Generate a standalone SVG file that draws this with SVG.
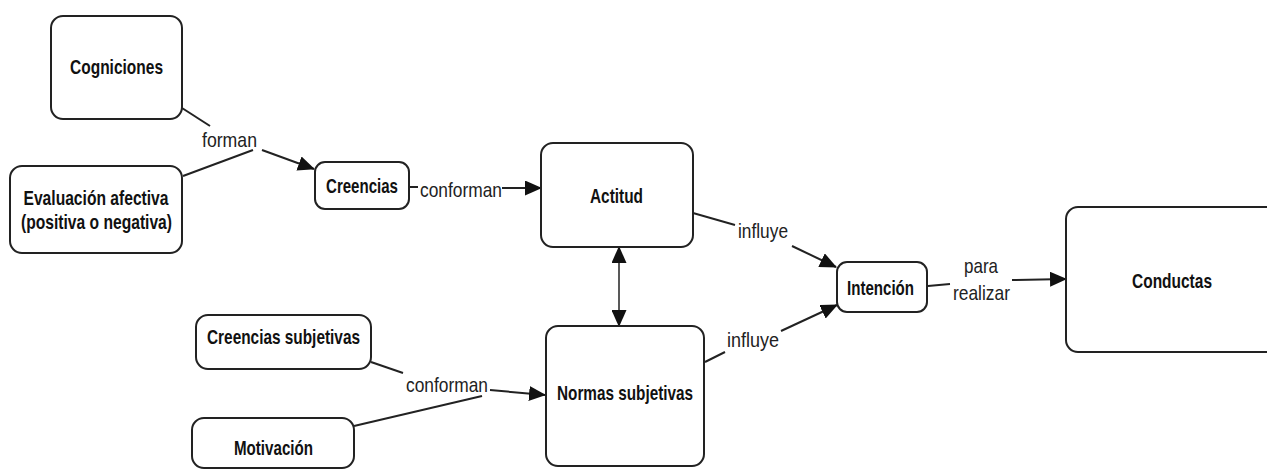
<svg xmlns="http://www.w3.org/2000/svg" width="1267" height="470" viewBox="0 0 1267 470">
  <defs>
    <style>
      .box { fill: #ffffff; stroke: #222222; stroke-width: 2; }
      .node-text { font-family: "Liberation Sans", Arial, sans-serif; font-weight: bold; font-size: 21px; fill: #111111; text-anchor: middle; }
      .label { font-family: "Liberation Sans", Arial, sans-serif; font-size: 21px; fill: #222222; text-anchor: middle; }
      .conn { fill: none; stroke: #222222; stroke-width: 2; }
      .thin { fill: none; stroke: #222222; stroke-width: 1.5; }
    </style>
    <marker id="arrow" viewBox="0 0 17 15" refX="16" refY="7.5" markerWidth="17" markerHeight="15" markerUnits="userSpaceOnUse" orient="auto-start-reverse">
      <path d="M0,0 L17,7.5 L0,15 z" fill="#111111"/>
    </marker>
  </defs>
  <rect width="1267" height="470" fill="#ffffff"/>

  <g id="connectors">
    <line class="conn" x1="182" y1="108" x2="210" y2="126"/>
    <line class="conn" x1="183" y1="176" x2="253" y2="150"/>
    <line class="conn" x1="262" y1="150" x2="314" y2="169" marker-end="url(#arrow)"/>
    <line class="conn" x1="409" y1="187" x2="418" y2="187"/>
    <line class="conn" x1="502" y1="188" x2="541" y2="188" marker-end="url(#arrow)"/>
    <line class="conn" x1="693" y1="213" x2="735" y2="225"/>
    <line class="conn" x1="792" y1="246" x2="836" y2="267" marker-end="url(#arrow)"/>
    <line class="conn" x1="705" y1="362" x2="725" y2="352"/>
    <line class="conn" x1="781" y1="331" x2="837" y2="305" marker-end="url(#arrow)"/>
    <line class="conn" x1="928" y1="286" x2="950" y2="284"/>
    <line class="conn" x1="1012" y1="280" x2="1066" y2="279" marker-end="url(#arrow)"/>
    <line class="thin" x1="619" y1="247" x2="619" y2="326" marker-start="url(#arrow)" marker-end="url(#arrow)"/>
    <line class="conn" x1="371" y1="362" x2="403" y2="373"/>
    <line class="conn" x1="354" y1="426" x2="482" y2="396"/>
    <line class="conn" x1="490" y1="390" x2="545" y2="395" marker-end="url(#arrow)"/>
    <text class="label" x="229.5" y="147" textLength="55" lengthAdjust="spacingAndGlyphs">forman</text>
    <text class="label" x="461" y="197" textLength="82" lengthAdjust="spacingAndGlyphs">conforman</text>
    <text class="label" x="763" y="238" textLength="50" lengthAdjust="spacingAndGlyphs">influye</text>
    <text class="label" x="753" y="347" textLength="52" lengthAdjust="spacingAndGlyphs">influye</text>
    <text class="label" x="981" y="273" textLength="34" lengthAdjust="spacingAndGlyphs">para</text>
    <text class="label" x="981.5" y="300" textLength="57" lengthAdjust="spacingAndGlyphs">realizar</text>
    <text class="label" x="447" y="392" textLength="82" lengthAdjust="spacingAndGlyphs">conforman</text>
  </g>

  <g id="cogniciones">
    <rect class="box" x="51" y="16" width="131" height="103" rx="12"/>
    <text class="node-text" x="116.5" y="74" textLength="93" lengthAdjust="spacingAndGlyphs">Cogniciones</text>
  </g>
  <g id="evaluacion">
    <rect class="box" x="10" y="166" width="172" height="87" rx="12"/>
    <text class="node-text" x="96" y="205" textLength="145" lengthAdjust="spacingAndGlyphs">Evaluación afectiva</text>
    <text class="node-text" x="96.5" y="229" textLength="151" lengthAdjust="spacingAndGlyphs">(positiva o negativa)</text>
  </g>
  <g id="creencias">
    <rect class="box" x="315" y="162" width="94" height="47" rx="10"/>
    <text class="node-text" x="362" y="193" textLength="72" lengthAdjust="spacingAndGlyphs">Creencias</text>
  </g>
  <g id="actitud">
    <rect class="box" x="541" y="143" width="152" height="104" rx="12"/>
    <text class="node-text" x="616.5" y="203" textLength="53" lengthAdjust="spacingAndGlyphs">Actitud</text>
  </g>
  <g id="intencion">
    <rect class="box" x="837" y="262" width="90" height="50" rx="10"/>
    <text class="node-text" x="880.5" y="295" textLength="67" lengthAdjust="spacingAndGlyphs">Intención</text>
  </g>
  <g id="conductas">
    <rect class="box" x="1066" y="207" width="240" height="145" rx="12"/>
    <text class="node-text" x="1172" y="288" textLength="80" lengthAdjust="spacingAndGlyphs">Conductas</text>
  </g>
  <g id="creencias-subjetivas">
    <rect class="box" x="196" y="315" width="175" height="54" rx="12"/>
    <text class="node-text" x="283.5" y="344" textLength="153" lengthAdjust="spacingAndGlyphs">Creencias subjetivas</text>
  </g>
  <g id="motivacion">
    <rect class="box" x="192" y="418" width="162" height="50" rx="12"/>
    <text class="node-text" x="273.5" y="455" textLength="79" lengthAdjust="spacingAndGlyphs">Motivación</text>
  </g>
  <g id="normas-subjetivas">
    <rect class="box" x="546" y="326" width="158" height="140" rx="12"/>
    <text class="node-text" x="625" y="400" textLength="136" lengthAdjust="spacingAndGlyphs">Normas subjetivas</text>
  </g>
</svg>
